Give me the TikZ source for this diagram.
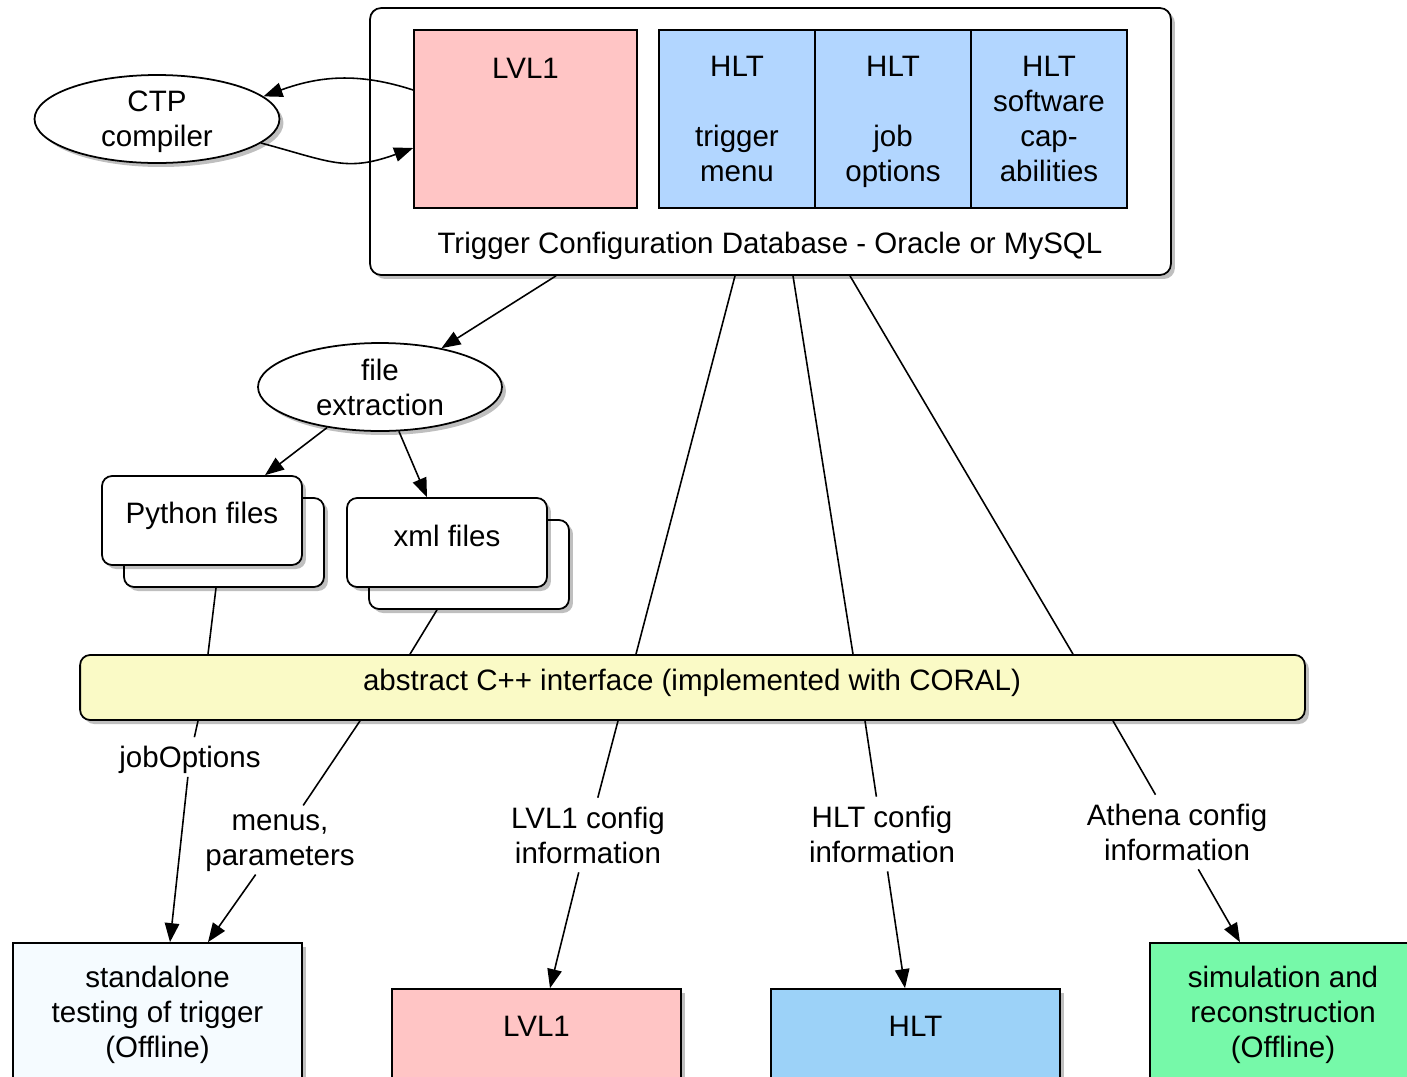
\documentclass[tikz,border=0pt]{standalone}
\usepackage{fontspec}
\setmainfont{Liberation Sans}
\usetikzlibrary{shapes.geometric,arrows.meta,shadows,calc}

\definecolor{lvlpink}{RGB}{255,197,197}
\definecolor{hltlight}{RGB}{178,214,255}
\definecolor{hltdark}{RGB}{156,210,248}
\definecolor{coralyellow}{RGB}{250,250,198}
\definecolor{offgreen}{RGB}{118,249,169}
\definecolor{standwhite}{RGB}{245,251,255}

\tikzset{
  every node/.style={font=\fontsize{16.8}{19.9}\selectfont, align=center, text depth=0pt},
  shadowed/.style={drop shadow={shadow xshift=0.08cm, shadow yshift=-0.08cm, fill=black, opacity=0.25}},
  box/.style={draw, line width=1pt, inner sep=0pt},
  rbox/.style={box, rounded corners=0.22cm, fill=white, shadowed},
  hltcell/.style={box, fill=hltlight, minimum width=3.12cm, minimum height=3.56cm},
  ell/.style={draw, ellipse, fill=white, line width=1pt, inner sep=0pt, shadowed,
    minimum width=4.9cm, minimum height=1.76cm},
  filebox/.style={rbox, rounded corners=0.2cm, minimum width=4cm, minimum height=1.78cm},
  sqbox/.style={box, shadowed, minimum width=5.78cm, minimum height=2.74cm},
  lbl/.style={inner sep=5pt},
  arr/.style={line width=0.9pt, -{Triangle[length=0.38cm,width=0.29cm]}},
  con/.style={line width=0.9pt}
}

\begin{document}
\begin{tikzpicture}[x=0.02cm, y=-0.02cm]
  \useasboundingbox (0,0) rectangle (1407,1076);
  \clip (0,0) rectangle (1407,1076);

  % configuration database
  \node[rbox, minimum width=16.02cm, minimum height=5.34cm] (db) at (770.5,141.5) {};
  \node[box, fill=lvlpink, minimum width=4.46cm, minimum height=3.56cm] (lvlonedb) at (525.5,119) {};
  \node (lvlonetxt) at (525.5,68) {LVL1};
  \node[hltcell] (hltmenu) at (737,119) {HLT\\[19.9pt]trigger\\menu};
  \node[hltcell] (hltjob) at (893,119) {HLT\\[19.9pt]job\\options};
  \node[hltcell] (hltsw) at (1049,119) {HLT\\software\\cap-\\abilities};
  \node (dbtxt) at (770,243) {Trigger Configuration Database - Oracle or MySQL};

  % CTP compiler
  \node[ell] (ctp) at (157,119) {CTP\\compiler};
  \draw[arr] ($(lvlonedb.west)+(0,-29)$) to[out=162,in=20] (ctp.12);
  \draw[arr] (ctp.-13) to[out=-15,in=200, looseness=1.2] ($(lvlonedb.west)+(0,29)$);

  % file extraction
  \node[ell, minimum width=4.88cm] (fx) at (380,387) {file\\extraction};
  \draw[arr] ($(db.south)+(-214.5,0)$) -- (fx);

  \node[filebox] (pyback) at (224,542.5) {};
  \node[filebox] (pyfront) at (202,520.5) {};
  \node (pytxt) at (202,513) {Python files};
  \node[filebox] (xmlback) at (469,564.5) {};
  \node[filebox] (xmlfront) at (447,542.5) {};
  \node (xmltxt) at (447,536) {xml files};
  \draw[arr] (fx) -- ($(pyfront.north)+(63,0)$);
  \draw[arr] (fx) -- ($(xmlfront.north)+(-20,0)$);

  % CORAL interface
  \node[rbox, fill=coralyellow, rounded corners=0.2cm, minimum width=24.5cm, minimum height=1.3cm] (bar) at (692.5,687.5) {};
  \node (bartxt) at (692,680) {abstract C++ interface (implemented with CORAL)};

  \draw[con] ($(pyback.south)+(-8,0)$) -- ($(bar.north)+(-484.5,0)$);
  \draw[con] ($(xmlback.south)+(-32,0)$) -- ($(bar.north)+(-282.5,0)$);
  \draw[con] ($(db.south)+(-35.5,0)$) -- ($(bar.north)+(-56.5,0)$);
  \draw[con] ($(db.south)+(22.5,0)$) -- ($(bar.north)+(160.5,0)$);
  \draw[con] ($(db.south)+(79.5,0)$) -- ($(bar.north)+(380.5,0)$);

  % clients
  \node[sqbox, fill=standwhite] (standalone) at (157.5,1011.5) {standalone\\testing of trigger\\(Offline)};
  \node[sqbox, fill=lvlpink] (lvlonebox) at (536.5,1057.5) {};
  \node (lvlonebtxt) at (536.5,1026) {LVL1};
  \node[sqbox, fill=hltdark] (hltbox) at (915.5,1057.5) {};
  \node (hltbtxt) at (915.5,1026) {HLT};
  \node[sqbox, fill=offgreen, minimum width=5.32cm] (simbox) at (1283,1011.5) {simulation and\\reconstruction\\(Offline)};

  \node[lbl] (jobopt) at (190,757) {jobOptions};
  \node[lbl] (menus) at (280,840) {menus,\\parameters};
  \node[lbl] (lvlinfo) at (588,835) {LVL1 config\\information};
  \node[lbl] (hltinfo) at (882,834) {HLT config\\information};
  \node[lbl] (athinfo) at (1177,832) {Athena config\\information};

  \draw[arr] ($(bar.south)+(-494.5,0)$) -- (jobopt) -- ($(standalone.north)+(12.5,0)$);
  \draw[arr] ($(bar.south)+(-332.5,0)$) -- (menus) -- ($(standalone.north)+(50.5,0)$);
  \draw[arr] ($(bar.south)+(-74.5,0)$) -- (lvlinfo) -- ($(lvlonebox.north)+(13.5,0)$);
  \draw[arr] ($(bar.south)+(172.5,0)$) -- (hltinfo) -- ($(hltbox.north)+(-10.5,0)$);
  \draw[arr] ($(bar.south)+(420.5,0)$) -- (athinfo) -- ($(simbox.north)+(-43,0)$);
\end{tikzpicture}
\end{document}
